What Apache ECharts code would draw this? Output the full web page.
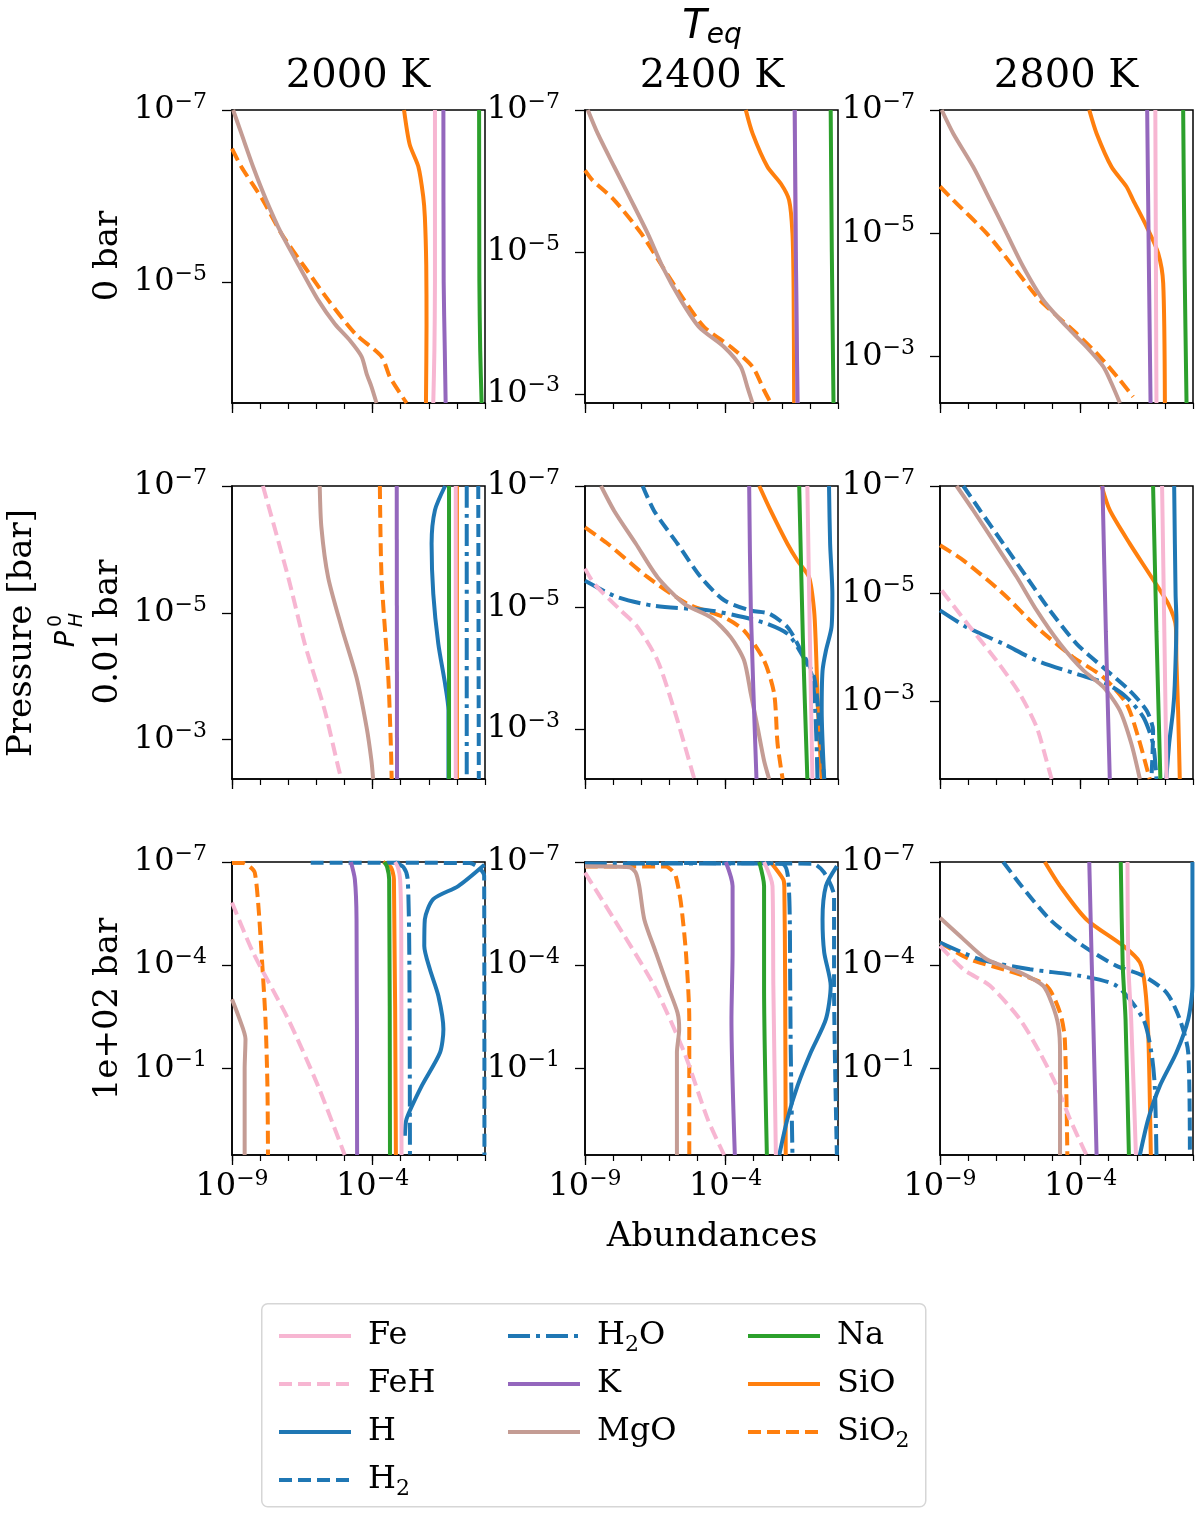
<!DOCTYPE html>
<html><head><meta charset="utf-8">
<script src="https://cdn.jsdelivr.net/npm/echarts@6.0.0/dist/echarts.min.js"></script>
<style>html,body{margin:0;padding:0;background:#fff}#c{width:1200px;height:1513px}</style>
</head><body><div id="c"></div>
<script>
// All curve values are [log10(abundance), log10(pressure / bar)]
const temperatures = ['2000 K', '2400 K', '2800 K'];
const rowLabels = ['0 bar', '0.01 bar', '1e+02 bar'];
const xTickExponents = [-9, -4];
const yTickExponents = [[-7, -5, -3], [-7, -5, -3], [-7, -4, -1]];
const pressureBottom = [[-3.59, -2.87, -2.25], [-2.38, -2.18, -1.56], [1.52, 1.52, 1.52]];
const legendColumns = [['Fe', 'FeH', 'H', 'H2'], ['H2O', 'K', 'MgO'], ['Na', 'SiO', 'SiO2']];

// Row 1 (P_H^0 = 0 bar)
const r1c1_SiO = [[-2.88,-7],[-2.68,-6.6],[-2.37,-6.34],[-2.2,-6.0],[-2.14,-5.76],[-2.09,-5.2],[-2.08,-4.5],[-2.10,-3.59]];
const r1c1_Fe = [[-1.78,-7],[-1.78,-5],[-1.8,-4.2],[-1.84,-3.59]];
const r1c1_K = [[-1.48,-7],[-1.47,-5],[-1.43,-4.2],[-1.40,-3.59]];
const r1c1_Na = [[-0.21,-7],[-0.20,-5],[-0.17,-4.2],[-0.12,-3.59]];
const r1c1_MgO = [[-8.96,-7],[-8.67,-6.73],[-8.25,-6.34],[-7.78,-5.95],[-7.24,-5.56],[-6.59,-5.17],[-5.94,-4.79],[-5.34,-4.51],[-4.81,-4.32],[-4.39,-4.13],[-4.21,-3.93],[-4.04,-3.78],[-3.86,-3.59]];
const r1c1_SiO2 = [[-9,-6.55],[-8.67,-6.34],[-7.9,-5.95],[-7.24,-5.56],[-6.41,-5.17],[-5.58,-4.79],[-4.63,-4.40],[-3.68,-4.13],[-3.38,-3.89],[-2.79,-3.59]];

const r1c2_SiO = [[-3.28,-7],[-3.04,-6.67],[-2.51,-6.2],[-2.03,-5.96],[-1.74,-5.73],[-1.62,-5.26],[-1.58,-4.5],[-1.56,-2.87]];
const r1c2_Fe = [[-1.54,-7],[-1.5,-5],[-1.44,-2.87]];
const r1c2_K = [[-1.54,-7],[-1.5,-5],[-1.44,-2.87]];
const r1c2_Na = [[-0.26,-7],[-0.22,-5],[-0.16,-2.87]];
const r1c2_MgO = [[-8.9,-7],[-8.55,-6.67],[-7.96,-6.2],[-7.36,-5.73],[-6.77,-5.26],[-6.24,-4.79],[-5.59,-4.32],[-4.94,-3.94],[-4.05,-3.66],[-3.46,-3.38],[-3.22,-3.09],[-3.04,-2.87]];
const r1c2_SiO2 = [[-9,-6.15],[-8.73,-6.01],[-7.96,-5.73],[-7.0,-5.26],[-6.24,-4.79],[-5.47,-4.32],[-4.76,-3.94],[-3.81,-3.66],[-3.04,-3.38],[-2.63,-3.05],[-2.39,-2.87]];

const r1c3_SiO = [[-3.69,-7],[-3.43,-6.62],[-2.9,-6.08],[-2.37,-5.76],[-2.13,-5.54],[-1.65,-5.11],[-1.24,-4.68],[-1.06,-4.19],[-1.0,-2.25]];
const r1c3_Fe = [[-1.34,-7],[-1.32,-4.5],[-1.30,-2.25]];
const r1c3_K = [[-1.63,-7],[-1.57,-4.5],[-1.51,-2.25]];
const r1c3_Na = [[-0.35,-7],[-0.3,-4.5],[-0.23,-2.25]];
const r1c3_MgO = [[-8.94,-7],[-8.53,-6.62],[-7.82,-6.08],[-7.22,-5.54],[-6.63,-5.0],[-6.04,-4.46],[-5.33,-3.92],[-4.5,-3.49],[-3.79,-3.16],[-3.19,-2.84],[-2.9,-2.57],[-2.6,-2.25]];
const r1c3_SiO2 = [[-9,-5.76],[-8.53,-5.54],[-7.34,-5.0],[-6.39,-4.46],[-5.45,-3.92],[-4.15,-3.38],[-3.31,-3.0],[-2.6,-2.62],[-2.13,-2.35]];

// Row 2 (P_H^0 = 0.01 bar)
const r2c1_FeH = [[-7.9,-7],[-7.0,-5.56],[-6.41,-4.51],[-5.7,-3.46],[-5.16,-2.46],[-5.07,-2.38]];
const r2c1_MgO = [[-5.88,-7],[-5.82,-6.35],[-5.58,-5.56],[-5.1,-4.77],[-4.57,-3.98],[-4.21,-3.19],[-4.04,-2.67],[-3.98,-2.38]];
const r2c1_SiO2 = [[-3.74,-7],[-3.68,-5.56],[-3.44,-3.98],[-3.35,-2.93],[-3.32,-2.38]];
const r2c1_K = [[-3.14,-7],[-3.13,-2.38]];
const r2c1_H = [[-1.42,-7],[-1.78,-6.62],[-1.9,-6.09],[-1.84,-5.3],[-1.66,-4.51],[-1.42,-3.88],[-1.3,-3.46],[-1.3,-2.38]];
const r2c1_Na = [[-1.28,-7],[-1.28,-2.38]];
const r2c1_Fe = [[-1.04,-7],[-1.04,-2.38]];
const r2c1_SiO = [[-1.0,-7],[-1.0,-2.38]];
const r2c1_H2O = [[-0.65,-7],[-0.65,-2.38]];
const r2c1_H2 = [[-0.24,-7],[-0.22,-2.38]];

const r2c2_SiO = [[-2.8,-7],[-2.39,-6.59],[-1.8,-6.05],[-1.44,-5.77],[-1.03,-5.5],[-0.85,-4.95],[-0.79,-4.40],[-0.75,-3.85],[-0.71,-3.31],[-0.65,-2.76],[-0.58,-2.18]];
const r2c2_K = [[-3.16,-7],[-3.1,-4.95],[-2.9,-2.18]];
const r2c2_Na = [[-1.38,-7],[-1.25,-4.5],[-1.09,-2.18]];
const r2c2_Fe = [[-1.09,-7],[-1.0,-4.5],[-0.91,-2.18]];
const r2c2_H = [[-0.32,-7],[-0.28,-6.05],[-0.2,-5.22],[-0.23,-4.68],[-0.43,-4.29],[-0.55,-3.96],[-0.58,-3.31],[-0.49,-2.18]];
const r2c2_H2 = [[-6.95,-7],[-6.54,-6.59],[-5.71,-6.05],[-4.88,-5.5],[-4.05,-5.12],[-3.1,-4.95],[-2.45,-4.9],[-1.8,-4.68],[-1.38,-4.35],[-0.85,-3.85],[-0.61,-2.76],[-0.49,-2.18]];
const r2c2_H2O = [[-9,-5.44],[-7.84,-5.17],[-6.54,-5.03],[-4.52,-4.95],[-3.34,-4.84],[-2.51,-4.73],[-1.8,-4.57],[-1.44,-4.35],[-0.91,-3.85],[-0.73,-2.18]];
const r2c2_MgO = [[-8.43,-7],[-7.96,-6.59],[-7.19,-6.05],[-6.42,-5.5],[-5.47,-5.06],[-4.52,-4.84],[-3.81,-4.51],[-3.34,-4.13],[-3.1,-3.58],[-2.86,-3.03],[-2.63,-2.48],[-2.45,-2.18]];
const r2c2_SiO2 = [[-9,-6.32],[-8.19,-6.05],[-6.77,-5.5],[-5.35,-5.06],[-4.05,-4.84],[-3.34,-4.62],[-2.63,-4.13],[-2.27,-3.58],[-2.15,-2.76],[-1.97,-2.18]];
const r2c2_FeH = [[-9,-5.64],[-8.67,-5.39],[-7.72,-4.95],[-7.13,-4.68],[-6.42,-4.13],[-5.82,-3.31],[-5.47,-2.76],[-5.11,-2.18]];

const r2c3_SiO = [[-3.25,-7],[-2.96,-6.55],[-2.25,-5.93],[-1.48,-5.31],[-0.88,-4.81],[-0.61,-4.38],[-0.59,-3.76],[-0.53,-2.83],[-0.47,-1.56]];
const r2c3_K = [[-3.22,-7],[-3.1,-4.3],[-2.96,-1.56]];
const r2c3_Na = [[-1.42,-7],[-1.3,-4.3],[-1.16,-1.56]];
const r2c3_Fe = [[-1.1,-7],[-1.02,-4.3],[-0.94,-1.56]];
const r2c3_H = [[-0.67,-7],[-0.62,-5.0],[-0.59,-4.5],[-0.65,-3.3],[-0.71,-2.83],[-0.85,-2.21],[-0.95,-1.56]];
const r2c3_H2 = [[-8.17,-7],[-7.58,-6.55],[-6.75,-5.93],[-5.92,-5.31],[-5.09,-4.69],[-4.14,-4.07],[-3.08,-3.58],[-2.25,-3.2],[-1.65,-2.83],[-1.42,-2.46],[-1.44,-2.03],[-1.48,-1.56]];
const r2c3_H2O = [[-9,-4.69],[-8.05,-4.38],[-6.75,-4.07],[-5.56,-3.76],[-4.14,-3.51],[-3.08,-3.33],[-2.37,-3.08],[-1.77,-2.71],[-1.42,-2.21],[-1.3,-1.56]];
const r2c3_MgO = [[-8.41,-7],[-7.82,-6.55],[-7.04,-5.93],[-6.27,-5.31],[-5.56,-4.69],[-4.73,-4.07],[-3.91,-3.58],[-3.19,-3.27],[-2.6,-2.83],[-2.19,-2.21],[-1.89,-1.56]];
const r2c3_SiO2 = [[-9,-5.9],[-8.17,-5.62],[-6.75,-5.0],[-5.56,-4.38],[-4.26,-3.82],[-3.19,-3.45],[-2.37,-2.96],[-1.95,-2.34],[-1.54,-1.56]];
const r2c3_FeH = [[-8.94,-5.06],[-7.93,-4.38],[-6.99,-3.76],[-6.16,-3.14],[-5.56,-2.52],[-5.21,-1.9],[-5.03,-1.56]];

// Row 3 (P_H^0 = 1e+02 bar)
const r3c1_MgO = [[-9,-3.01],[-8.73,-2.43],[-8.52,-1.85],[-8.55,-0.98],[-8.55,1.52]];
const r3c1_SiO2 = [[-9,-6.97],[-8.6,-6.97],[-8.35,-6.85],[-8.19,-6.69],[-8.07,-5.82],[-7.95,-4.37],[-7.81,-2.43],[-7.74,-0.49],[-7.72,1.52]];
const r3c1_FeH = [[-9,-5.82],[-8.25,-4.37],[-7.0,-2.43],[-5.94,-0.49],[-4.99,1.52]];
const r3c1_K = [[-4.77,-7],[-4.63,-6.5],[-4.57,-5.33],[-4.55,1.52]];
const r3c1_Na = [[-3.58,-7],[-3.48,-6.85],[-3.41,-6.5],[-3.38,1.52]];
const r3c1_SiO = [[-3.62,-7],[-3.35,-6.85],[-3.24,-6.5],[-3.17,1.52]];
const r3c1_Fe = [[-3.2,-7],[-3.1,-6.85],[-3.02,-6.5],[-2.98,-5],[-2.97,1.52]];
const r3c1_H2O = [[-3.2,-6.99],[-2.9,-6.85],[-2.75,-6.5],[-2.69,-4],[-2.67,1.52]];
const r3c1_H2 = [[-6.2,-6.98],[-0.55,-6.97],[-0.03,-6.6],[-0.02,1.52]];
const r3c1_H = [[-0.02,-6.92],[-0.95,-6.3],[-1.84,-5.92],[-2.14,-5.33],[-2.16,-4.56],[-1.96,-3.88],[-1.66,-3.11],[-1.48,-2.14],[-1.6,-1.46],[-2.25,-0.49],[-2.79,0.47],[-2.85,0.96]];

const r3c2_MgO = [[-9,-6.88],[-7.42,-6.85],[-7.2,-6.7],[-7.07,-6.3],[-6.89,-5.33],[-6.48,-4.37],[-6.06,-3.4],[-5.71,-2.62],[-5.65,-2.14],[-5.73,-1.46],[-5.73,1.52]];
const r3c2_SiO2 = [[-9,-6.87],[-6.12,-6.87],[-5.9,-6.75],[-5.77,-6.59],[-5.59,-5.82],[-5.41,-4.37],[-5.29,-2.43],[-5.29,1.52]];
const r3c2_FeH = [[-9,-6.69],[-7.96,-5.33],[-6.54,-3.4],[-5.47,-1.46],[-4.64,0.47],[-4.05,1.52]];
const r3c2_K = [[-3.99,-7],[-3.75,-6.3],[-3.75,-4.37],[-3.79,-2.43],[-3.67,1.52]];
const r3c2_Na = [[-2.8,-7],[-2.63,-6.3],[-2.63,-3.4],[-2.53,1.52]];
const r3c2_Fe = [[-2.63,-7],[-2.33,-6.3],[-2.3,-3.4],[-2.21,1.52]];
const r3c2_SiO = [[-2.4,-7],[-1.95,-6.5],[-1.91,-6.3],[-1.88,-3.4],[-1.86,1.52]];
const r3c2_H2O = [[-9,-6.96],[-2.0,-6.95],[-1.74,-6.1],[-1.7,-3.4],[-1.68,-1.46],[-1.62,1.52]];
const r3c2_H2 = [[-7.5,-6.97],[-0.9,-6.95],[-0.49,-6.69],[-0.14,-6.0],[-0.14,-3.4],[-0.04,1.52]];
const r3c2_H = [[-0.04,-6.88],[-0.43,-6.3],[-0.55,-5.33],[-0.49,-4.37],[-0.26,-3.4],[-0.43,-2.43],[-0.97,-1.46],[-1.44,-0.49],[-1.8,0.47],[-2.09,1.52]];

const r3c3_H2 = [[-6.75,-7],[-6.1,-6.3],[-5.09,-5.33],[-3.91,-4.56],[-2.72,-3.98],[-1.77,-3.69],[-0.94,-3.2],[-0.47,-2.43],[-0.17,-1.46],[-0.11,1.52]];
const r3c3_SiO = [[-5.27,-7],[-4.73,-6.3],[-3.79,-5.33],[-2.48,-4.56],[-1.89,-4.08],[-1.71,-3.4],[-1.59,-1.95],[-1.5,1.52]];
const r3c3_K = [[-3.69,-7],[-3.6,-4],[-3.55,-2.43],[-3.43,1.52]];
const r3c3_Na = [[-2.57,-7],[-2.5,-4],[-2.4,-2.43],[-2.28,1.52]];
const r3c3_Fe = [[-2.33,-7],[-2.3,-4],[-2.2,-2.43],[-2.03,1.52]];
const r3c3_H = [[-0.02,-7],[-0.02,-3.4],[-0.17,-2.43],[-0.59,-1.46],[-1.18,-0.49],[-1.59,0.47],[-1.89,1.52]];
const r3c3_H2O = [[-9,-4.66],[-7.58,-4.17],[-5.8,-3.88],[-4.02,-3.69],[-2.72,-3.4],[-1.77,-2.43],[-1.48,-1.46],[-1.36,-0.49],[-1.3,1.52]];
const r3c3_MgO = [[-9,-5.38],[-8.29,-4.85],[-7.34,-4.17],[-6.16,-3.79],[-5.33,-3.4],[-5.03,-2.91],[-4.79,-2.24],[-4.73,-1.46],[-4.73,1.52]];
const r3c3_SiO2 = [[-9,-4.66],[-7.93,-4.17],[-6.39,-3.79],[-5.21,-3.4],[-4.73,-2.62],[-4.56,-1.85],[-4.47,1.52]];
const r3c3_FeH = [[-9,-4.56],[-8.17,-3.88],[-7.22,-3.4],[-6.16,-2.43],[-5.45,-1.46],[-4.85,-0.49],[-4.38,0.47],[-3.79,1.52]];

const panels = [
  [
    {SiO: r1c1_SiO, SiO2: r1c1_SiO2, MgO: r1c1_MgO, Fe: r1c1_Fe, Na: r1c1_Na, K: r1c1_K},
    {SiO: r1c2_SiO, SiO2: r1c2_SiO2, MgO: r1c2_MgO, Fe: r1c2_Fe, Na: r1c2_Na, K: r1c2_K},
    {SiO: r1c3_SiO, SiO2: r1c3_SiO2, MgO: r1c3_MgO, Fe: r1c3_Fe, Na: r1c3_Na, K: r1c3_K}
  ],
  [
    {SiO: r2c1_SiO, SiO2: r2c1_SiO2, H: r2c1_H, H2: r2c1_H2, H2O: r2c1_H2O, FeH: r2c1_FeH, MgO: r2c1_MgO, Fe: r2c1_Fe, Na: r2c1_Na, K: r2c1_K},
    {SiO: r2c2_SiO, SiO2: r2c2_SiO2, H: r2c2_H, H2: r2c2_H2, H2O: r2c2_H2O, FeH: r2c2_FeH, MgO: r2c2_MgO, Fe: r2c2_Fe, Na: r2c2_Na, K: r2c2_K},
    {SiO: r2c3_SiO, SiO2: r2c3_SiO2, H: r2c3_H, H2: r2c3_H2, H2O: r2c3_H2O, FeH: r2c3_FeH, MgO: r2c3_MgO, Fe: r2c3_Fe, Na: r2c3_Na, K: r2c3_K}
  ],
  [
    {SiO: r3c1_SiO, SiO2: r3c1_SiO2, H: r3c1_H, H2: r3c1_H2, H2O: r3c1_H2O, FeH: r3c1_FeH, MgO: r3c1_MgO, Fe: r3c1_Fe, Na: r3c1_Na, K: r3c1_K},
    {SiO: r3c2_SiO, SiO2: r3c2_SiO2, H: r3c2_H, H2: r3c2_H2, H2O: r3c2_H2O, FeH: r3c2_FeH, MgO: r3c2_MgO, Fe: r3c2_Fe, Na: r3c2_Na, K: r3c2_K},
    {SiO: r3c3_SiO, SiO2: r3c3_SiO2, H: r3c3_H, H2: r3c3_H2, H2O: r3c3_H2O, FeH: r3c3_FeH, MgO: r3c3_MgO, Fe: r3c3_Fe, Na: r3c3_Na, K: r3c3_K}
  ]
];

// ---- styling ----
const SERIF = 'DejaVu Serif';
const drawOrder = ['SiO', 'SiO2', 'H', 'H2', 'H2O', 'FeH', 'MgO', 'Fe', 'Na', 'K'];
const DASH = [13, 6], DASHDOT = [22, 6, 4, 6];
const LW = 4;
const speciesStyle = {
  Fe: {color: '#f7b6d2', type: 'solid'}, FeH: {color: '#f7b6d2', type: DASH},
  H: {color: '#1f77b4', type: 'solid'}, H2: {color: '#1f77b4', type: DASH}, H2O: {color: '#1f77b4', type: DASHDOT},
  K: {color: '#9467bd', type: 'solid'}, MgO: {color: '#c49c94', type: 'solid'},
  Na: {color: '#2ca02c', type: 'solid'}, SiO: {color: '#ff7f0e', type: 'solid'}, SiO2: {color: '#ff7f0e', type: DASH}
};
const colLeft = [232, 585, 940];
const rowTop = [110, 486, 862];
const PW = 253, PH = 293;

const tickRich = {
  m: {fontFamily: SERIF, fontSize: 32, color: '#000', lineHeight: 38},
  s: {fontFamily: SERIF, fontSize: 22, color: '#000', lineHeight: 23, verticalAlign: 'top'}
};
const powFmt = v => '{m|10}{s|' + (v < 0 ? '\u2212' : '') + Math.abs(Math.round(v)) + '}';
const axisLineStyle = {color: '#000', width: 1.5};

const grids = [], xAxes = [], yAxes = [], series = [];
for (let r = 0; r < 3; r++) {
  for (let c = 0; c < 3; c++) {
    const g = r * 3 + c;
    const yMax = pressureBottom[r][c];
    const yt = yTickExponents[r].filter(v => v <= yMax);
    grids.push({left: colLeft[c], top: rowTop[r], width: PW, height: PH, show: true,
      borderColor: '#000', borderWidth: 1.5, backgroundColor: 'transparent'});
    xAxes.push({gridIndex: g, type: 'value', position: 'bottom', min: -9, max: 0, interval: 1,
      axisLine: {show: true, onZero: false, lineStyle: axisLineStyle},
      axisTick: {show: true, length: 6, lineStyle: {color: '#000', width: 1.2}},
      axisLabel: {show: false}, splitLine: {show: false}});
    xAxes.push({gridIndex: g, type: 'value', position: 'bottom', min: -9, max: 0,
      axisLine: {show: false, onZero: false},
      axisTick: {show: true, customValues: xTickExponents, length: 10, lineStyle: {color: '#000', width: 1.3}},
      axisLabel: {show: r === 2, customValues: xTickExponents, formatter: powFmt, margin: 13, rich: tickRich},
      splitLine: {show: false}});
    yAxes.push({gridIndex: g, type: 'value', position: 'left', inverse: true, min: -7, max: yMax,
      axisLine: {show: true, onZero: false, lineStyle: axisLineStyle},
      axisTick: {show: true, customValues: yt, length: 10, lineStyle: {color: '#000', width: 1.3}},
      axisLabel: {show: true, customValues: yt, formatter: powFmt, margin: 25, rich: tickRich},
      splitLine: {show: false}});
    const pd = panels[r][c];
    drawOrder.forEach((sp, k) => {
      if (!pd[sp]) return;
      const st = speciesStyle[sp];
      series.push({type: 'line', name: sp, xAxisIndex: 2 * g, yAxisIndex: g, data: pd[sp],
        symbol: 'none', showSymbol: false, smooth: 0.25, silent: true, z: 2 + k * 0.01,
        lineStyle: {color: st.color, width: LW, type: st.type, cap: 'butt'},
        itemStyle: {color: st.color}, emphasis: {disabled: true}});
    });
  }
}

const legendFmt = n => n.replace(/(\d)/, '{sub|$1}');
const legendLeft = [272, 501, 741];
const legends = legendColumns.map((d, i) => ({
  data: d, orient: 'vertical', left: legendLeft[i], top: 1311, itemWidth: 72, itemHeight: 14, itemGap: 8,
  selectedMode: false, formatter: legendFmt, z: 10,
  itemStyle: {opacity: 0},
  lineStyle: {width: LW},
  textStyle: {fontFamily: SERIF, fontSize: 32, color: '#000', lineHeight: 40, padding: [0, 0, 0, 12],
    rich: {sub: {fontFamily: SERIF, fontSize: 22, color: '#000', lineHeight: 22, verticalAlign: 'bottom'}}}
}));

const txt = (x, y, text, size, rot, extra) => Object.assign({type: 'text', x: x, y: y, rotation: rot || 0,
  style: {text: text, fontFamily: SERIF, fontSize: size, fill: '#000', align: 'center', verticalAlign: 'middle'}}, extra || {});

const graphics = [
  {type: 'rect', left: 261, top: 1303, shape: {width: 664, height: 203, r: 6},
    style: {fill: '#fff', stroke: '#d6d6d6', lineWidth: 1.5}, z: 1},
  {type: 'text', x: 712, y: 28, style: {text: '{t|T}{e|eq}', align: 'center', verticalAlign: 'middle',
    rich: {t: {fontFamily: 'DejaVu Sans', fontStyle: 'italic', fontSize: 40, fill: '#000', color: '#000', lineHeight: 44},
           e: {fontFamily: 'DejaVu Sans', fontStyle: 'italic', fontSize: 28, fill: '#000', color: '#000', lineHeight: 28, verticalAlign: 'bottom'}}}},
  txt(358, 77, temperatures[0], 40), txt(712, 77, temperatures[1], 40), txt(1066, 77, temperatures[2], 40),
  txt(712, 1237, 'Abundances', 34),
  txt(108, 256, rowLabels[0], 34, Math.PI / 2),
  txt(108, 632, rowLabels[1], 34, Math.PI / 2),
  txt(108, 1009, rowLabels[2], 34, Math.PI / 2),
  txt(22, 633, 'Pressure [bar]', 34, Math.PI / 2),
  {type: 'text', x: 67, y: 639, rotation: Math.PI / 2, style: {text: 'P', fontFamily: 'DejaVu Sans', fontStyle: 'italic', fontSize: 27, fill: '#000', align: 'center', verticalAlign: 'middle'}},
  {type: 'text', x: 77, y: 620, rotation: Math.PI / 2, style: {text: 'H', fontFamily: 'DejaVu Sans', fontStyle: 'italic', fontSize: 19, fill: '#000', align: 'center', verticalAlign: 'middle'}},
  {type: 'text', x: 56, y: 621, rotation: Math.PI / 2, style: {text: '0', fontFamily: 'DejaVu Sans', fontSize: 19, fill: '#000', align: 'center', verticalAlign: 'middle'}}
];

const chart = echarts.init(document.getElementById('c'), null, {renderer: 'canvas'});
chart.setOption({
  animation: false,
  backgroundColor: '#fff',
  grid: grids, xAxis: xAxes, yAxis: yAxes, series: series,
  legend: legends,
  graphic: graphics
});
</script></body></html>
